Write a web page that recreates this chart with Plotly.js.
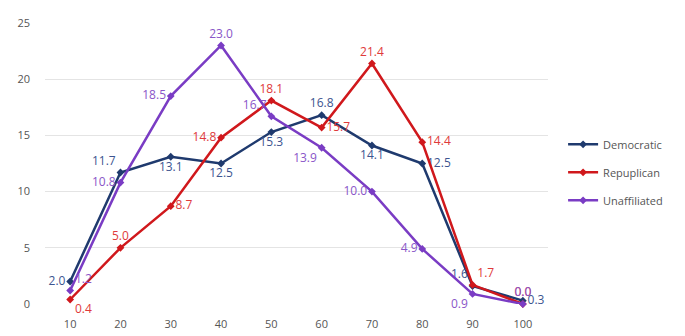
<!DOCTYPE html>
<html><head><meta charset="utf-8">
<script src="https://cdn.plot.ly/plotly-3.0.1.min.js"></script>
<style>html,body{margin:0;padding:0;background:#fff}#chart{width:685px;height:336px}</style>
</head><body><div id="chart"></div>
<script>
const categories = ["10","20","30","40","50","60","70","80","90","100"];
const democratic = [2.0, 11.7, 13.1, 12.5, 15.3, 16.8, 14.1, 12.5, 1.6, 0.3];
const republican = [0.4, 5.0, 8.7, 14.8, 18.1, 15.7, 21.4, 14.4, 1.7, 0.0];
const unaffiliated = [1.2, 10.8, 18.5, 23.0, 16.7, 13.9, 10.0, 4.9, 0.9, 0.0];
const yTicks = [0, 5, 10, 15, 20, 25];

const demPos = ["middle left","top left","bottom center","bottom center","bottom center","top center","bottom center","middle right","top left","middle right"];
const repPos = ["bottom right","top center","middle right","middle left","top center","middle right","top center","middle right","top right","top center"];
const unaPos = ["top right","middle left","middle left","top center","top left","bottom left","middle left","middle left","bottom left","top center"];

function tr(name, y, color, tcolor, pos, grp){
  return {
    type:'scatter', mode:'lines+markers+text', name:name, legendgroup:grp,
    x:categories, y:y,
    text:y.map(v=>v.toFixed(1)), textposition:pos,
    textfont:{family:'Open Sans, sans-serif', size:12, color:tcolor},
    line:{color:color, width:2.5},
    marker:{color:color, size:6, symbol:'diamond'},
    cliponaxis:false
  };
}
const data = [
  tr('Democratic', democratic, '#1f3a6e', '#3d5590', demPos, 'a'),
  tr('Repuplican', republican, '#d0181c', '#e03a3a', repPos, 'b'),
  tr('Unaffiliated', unaffiliated, '#7a3cc4', '#8a56c8', unaPos, 'c')
];
const layout = {
  width:685, height:336,
  margin:{l:45, r:137, t:23, b:32},
  paper_bgcolor:'#fff', plot_bgcolor:'#fff',
  font:{family:'Open Sans, sans-serif', size:11, color:'#555'},
  showlegend:true,
  legend:{x:1.03, y:0.62, xanchor:'left', yanchor:'top', traceorder:'grouped', font:{size:11, color:'#555'}, tracegroupgap:9, itemwidth:30, bgcolor:'rgba(0,0,0,0)'},
  xaxis:{type:'category', range:[-0.5, 9.5], showgrid:false, zeroline:false, showline:false, ticks:'', tickfont:{size:11, color:'#555'}, ticklabelstandoff:12},
  yaxis:{range:[0,25], tickvals:yTicks, showgrid:true, gridcolor:'#e4e4e4', gridwidth:1, zeroline:false, showline:false, ticks:'', tickfont:{size:11, color:'#555'}, ticklabelstandoff:14}
};
Plotly.newPlot('chart', data, layout, {displayModeBar:false, staticPlot:true});
</script>
</body></html>
